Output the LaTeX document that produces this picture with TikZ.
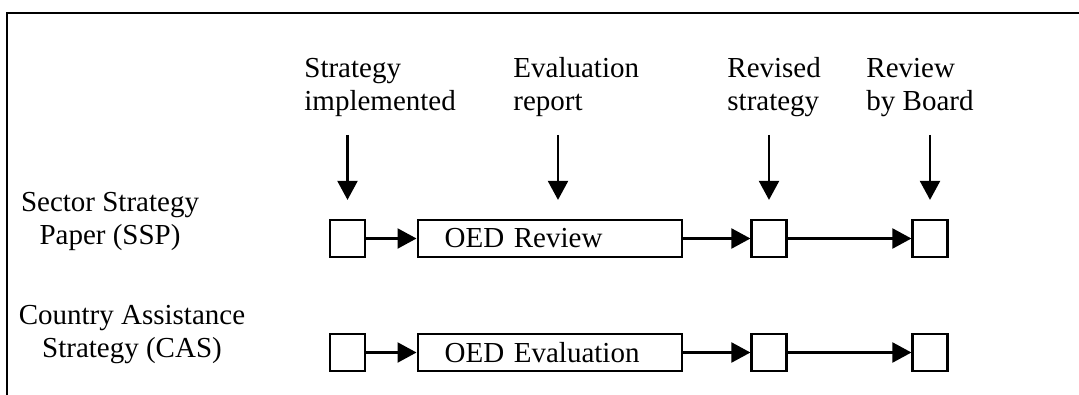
\documentclass[tikz,border=0pt]{standalone}
\usepackage{fontspec}
\setmainfont{Liberation Serif}
\usetikzlibrary{arrows.meta}

\tikzset{
  txt/.style={font=\fontsize{14.5pt}{16.5pt}\selectfont, inner sep=0pt},
  head/.style={txt, align=left, anchor=base west},
  rowlabel/.style={txt, align=center, anchor=base},
  stepbox/.style={draw, line width=1.1pt, minimum width=17.5pt, minimum height=18.5pt, inner sep=0pt},
  oedbox/.style={draw, line width=1.1pt, txt, text width=105pt, align=left,
                 inner xsep=13.5pt, minimum height=18.5pt, inner ysep=0pt},
  arr/.style={line width=1.1pt, -{Triangle[length=9.5pt,width=10pt]}},
}

\begin{document}
\begin{tikzpicture}[x=0.5pt, y=-0.5pt]
\useasboundingbox (0,0) rectangle (1079,395);

% open frame along the top and left edges
\coordinate (fbl) at (7,395);
\coordinate (ftl) at (7,13);
\coordinate (ftr) at (1079,13);
\draw[line width=1.1pt] (fbl) -- (ftl) -- (ftr);

% column headings (anchored on the baseline of the last line)
\node[head] (h1) at (304,111) {Strategy\\implemented};
\node[head] (h2) at (513,111) {Evaluation\\report};
\node[head] (h3) at (727,111) {Revised\\strategy};
\node[head] (h4) at (866,111) {Review\\by Board};

% row headings
\node[rowlabel] (r1) at (110,244) {Sector Strategy\\Paper (SSP)};
\node[rowlabel] (r2) at (132,357) {Country Assistance\\Strategy (CAS)};

% SSP row
\node[stepbox] (b11) at (347.5,238.5) {};
\node[oedbox]  (o1)  at (549.6,238.5) {OED Review};
\node[stepbox] (b13) at (769,238.5) {};
\node[stepbox] (b14) at (930,238.5) {};

% CAS row
\node[stepbox] (b21) at (347.5,352.5) {};
\node[oedbox]  (o2)  at (549.6,352.5) {OED Evaluation};
\node[stepbox] (b23) at (769,352.5) {};
\node[stepbox] (b24) at (930,352.5) {};

% flow along each row
\draw[arr] (b11) -- (o1);
\draw[arr] (o1) -- (b13);
\draw[arr] (b13) -- (b14);
\draw[arr] (b21) -- (o2);
\draw[arr] (o2) -- (b23);
\draw[arr] (b23) -- (b24);

% milestone markers
\coordinate (m1) at (347.5,135);
\coordinate (m2) at (558,135);
\coordinate (m3) at (769,135);
\coordinate (m4) at (930,135);
\draw[arr, shorten >=9.5pt] (m1) -- (m1 |- b11.north);
\draw[arr, shorten >=9.5pt] (m2) -- (m2 |- o1.north);
\draw[arr, shorten >=9.5pt] (m3) -- (m3 |- b13.north);
\draw[arr, shorten >=9.5pt] (m4) -- (m4 |- b14.north);
\end{tikzpicture}
\end{document}
